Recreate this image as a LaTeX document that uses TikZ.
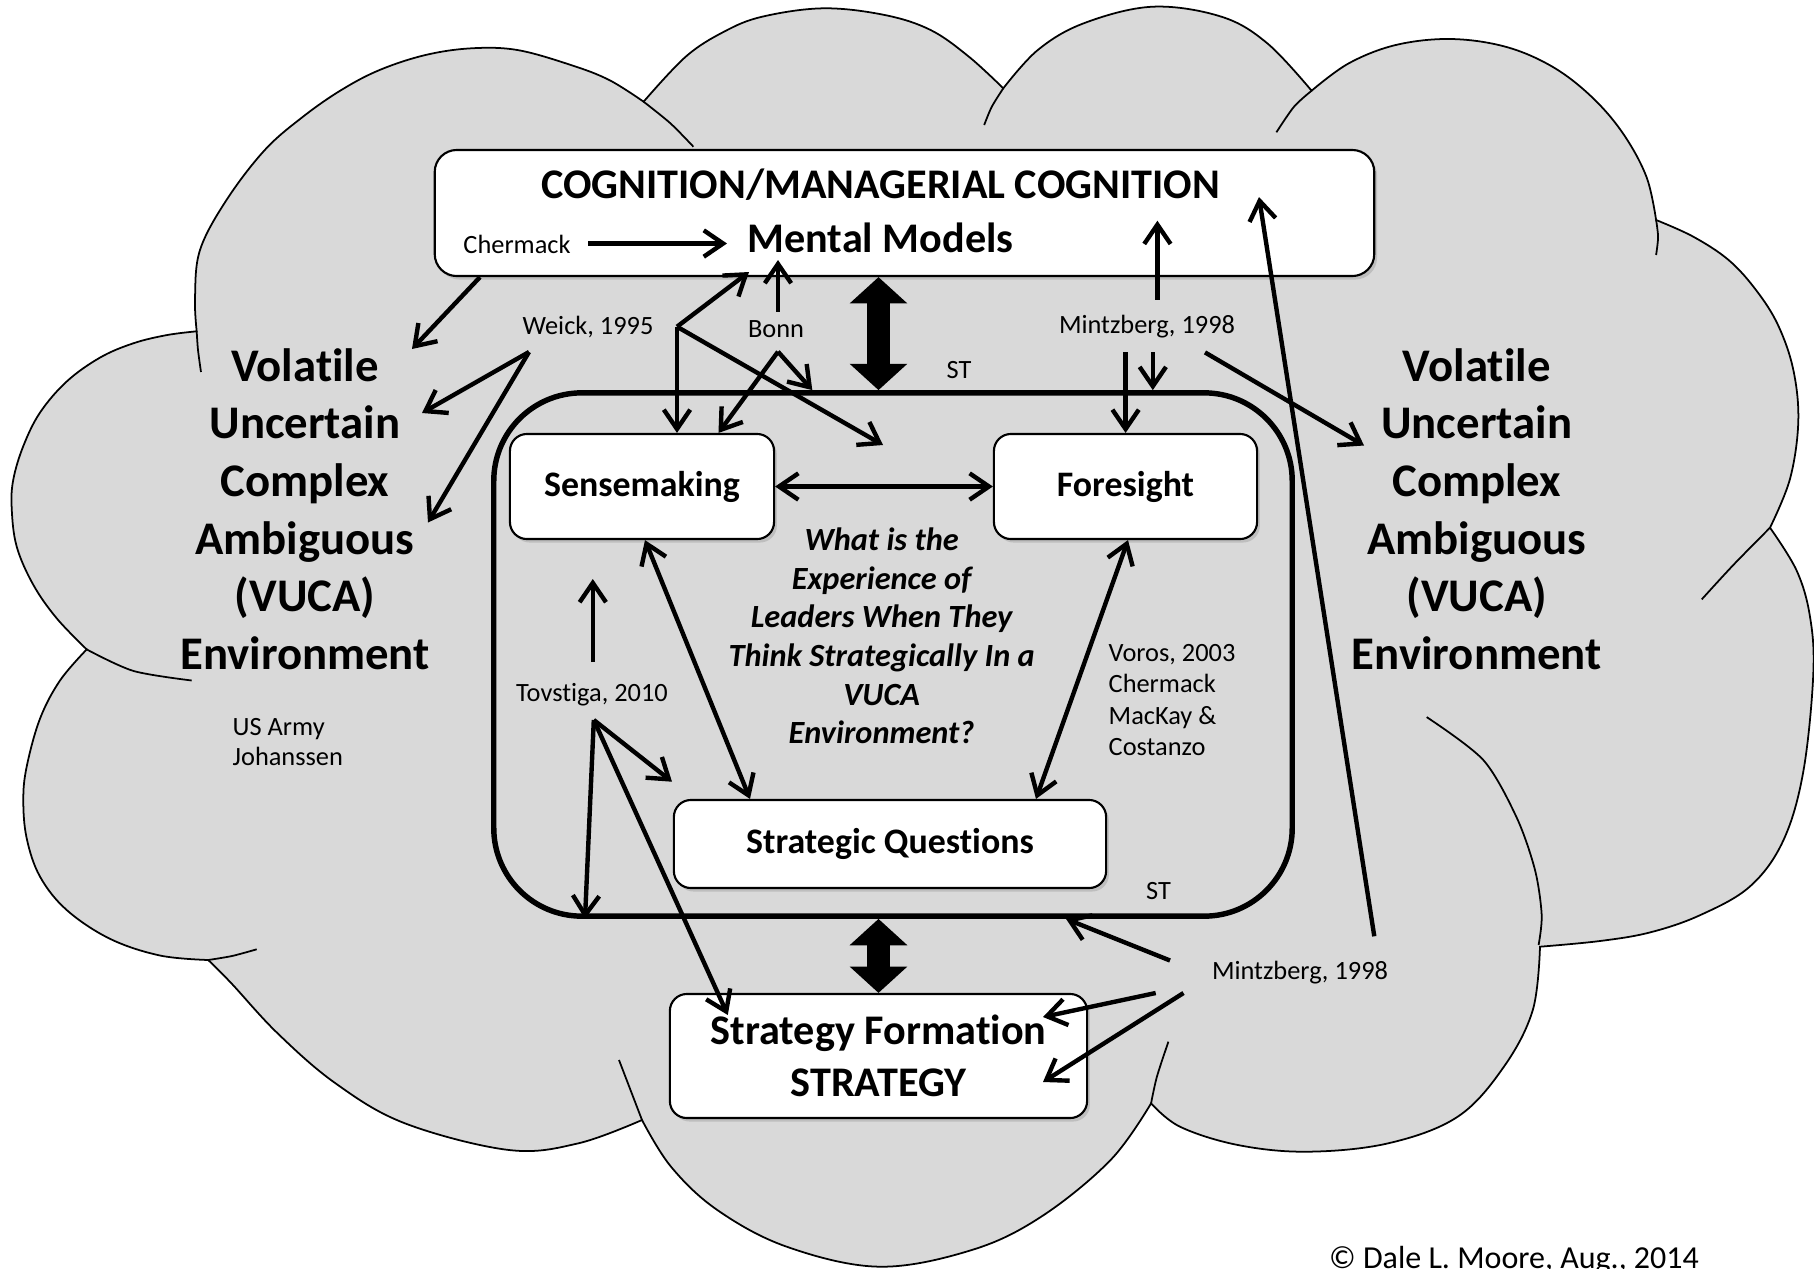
\documentclass[tikz,border=0pt]{standalone}
\usepackage{fontspec}
\setmainfont{Carlito}[Ligatures={NoCommon,NoContextual}]
\usetikzlibrary{arrows.meta,shadows}
\definecolor{cloudgray}{RGB}{217,217,217}
\begin{document}
\begin{tikzpicture}[x=0.01cm,y=-0.01cm,
  cloudline/.style={draw=black,line width=0.5pt},
  rbox/.style={draw=black,line width=0.6pt,fill=white,rounded corners=0.17cm,inner sep=0pt,align=center,
    drop shadow={opacity=0.3,shadow xshift=0.8pt,shadow yshift=-1pt}},
  boxlbl/.style={font=\bfseries\fontsize{10.2}{12}\selectfont},
  small/.style={font=\fontsize{7.5}{9}\selectfont,inner sep=0pt,align=left},
  vuca/.style={font=\bfseries\fontsize{13.3}{16.4}\selectfont,align=center,inner sep=0pt},
  arr/.style={line width=1.25pt,-{Straight Barb[length=5.5pt,width=7.5pt]}},
  darr/.style={line width=1.25pt,{Straight Barb[length=5.5pt,width=7.5pt]}-{Straight Barb[length=5.5pt,width=7.5pt]}},
  fatarr/.style={line width=6.3pt,{Triangle[length=7.5pt,width=16pt]}-{Triangle[length=7.5pt,width=16pt]}},
]
\clip (0,0) rectangle (1814,1269);
\fill[white] (0,0) rectangle (1814,1269);

% ---- the VUCA cloud: eleven bumps, clockwise from the left ----
\path[cloudline,fill=cloudgray]
  plot[smooth,tension=0.6] coordinates {(86.7,649.4) (56.7,618.3) (33.3,584.8) (16.7,546.6) (11.7,508.3) (13.3,479.6) (23.3,446.1) (40,412.6) (66.7,381.5) (100,357.6) (133.3,343.3) (166.7,335.1) (196.7,331.3)}
  -- plot[smooth,tension=0.6] coordinates {(196.7,331.3) (195,297.8) (200,250) (226.5,200) (264.8,150) (303,116.7) (341.3,90) (379.6,70) (425.5,55) (471.4,48.3) (517.3,50) (570.9,65) (609.2,80) (643.6,101.7)}
  -- plot[smooth,tension=0.6] coordinates {(643.6,101.7) (685.7,56.7) (724,31.7) (762.2,16.7) (823.5,8.3) (884.7,15) (930.6,30) (968.9,56.7) (1003.3,88.3)}
  -- plot[smooth,tension=0.6] coordinates {(1003.3,88.3) (1037.8,50) (1083.7,23.3) (1152.5,6.7) (1221.4,16.7) (1267.3,43.3) (1311.6,90.7)}
  -- plot[smooth,tension=0.6] coordinates {(1311.6,90.7) (1348.8,63.3) (1395.8,45) (1450.6,39) (1505.4,46.7) (1552.4,66.7) (1591.5,96.7) (1622.9,133.3) (1646.4,176.7) (1656.1,220)}
  -- plot[smooth,tension=0.6] coordinates {(1656.1,220) (1693.3,236.7) (1728.6,260) (1756,290) (1778,325) (1793.3,369.8) (1798.3,421.5) (1790,478.9) (1770,527.7)}
  -- plot[smooth,tension=0.6] coordinates {(1770,527.7) (1796.7,570.7) (1810,616.7) (1813.3,674) (1803.3,771.6) (1783.3,840.5) (1750,886.4) (1700,915.2) (1650,932.4) (1600,941) (1540,946.7)}
  -- plot[smooth,tension=0.6] coordinates {(1540,946.7) (1532.8,1010) (1503.9,1066.7) (1457.7,1116.7) (1388.2,1143.3) (1307.3,1151.7) (1237.9,1145) (1180,1126.7) (1151.1,1103.3)}
  -- plot[smooth,tension=0.6] coordinates {(1151.1,1103.3) (1110.6,1160) (1041.2,1216.7) (971.8,1250) (879.2,1266.7) (786.7,1246.7) (717.3,1210) (671,1166.7) (642,1120)}
  -- plot[smooth,tension=0.6] coordinates {(642,1120) (578.4,1143.3) (509,1150) (404.9,1123.3) (335.5,1083.3) (277.6,1033.3) (231.4,983.3) (208.2,960)}
  -- plot[smooth,tension=0.6] coordinates {(208.2,960) (160,955.5) (110,938.8) (66.7,910) (40,876.6) (26.7,838.3) (23.3,800) (26.7,766.6) (40,718.7) (60,680.5) (86.7,649.4)}
  -- cycle;

% inner arcs where the bumps overlap
\draw[cloudline] plot[smooth] coordinates {(86.7,649.4) (133.3,670.9) (191.7,680.5)};
\draw[cloudline] plot[smooth] coordinates {(196.7,331.3) (198,350) (201,372)};
\draw[cloudline] plot[smooth] coordinates {(643.6,101.7) (670.4,123.3) (693.4,146.7)};
\draw[cloudline] plot[smooth] coordinates {(1003.3,88.3) (991.8,106.7) (984.2,125)};
\draw[cloudline] plot[smooth] coordinates {(1311.6,90.7) (1294,106.7) (1276.4,132.3)};
\draw[cloudline] plot[smooth] coordinates {(1656.1,220) (1658.1,237) (1656.1,255)};
\draw[cloudline] plot[smooth] coordinates {(1770,527.7) (1733.3,565) (1701.7,599.4)};
\draw[cloudline] plot[smooth] coordinates {(1538.6,945) (1541.7,915) (1535,870) (1516.7,817.6) (1483.3,760) (1426.7,717.1)};
\draw[cloudline] plot[smooth] coordinates {(1151.1,1103.3) (1156.9,1076.7) (1168.4,1041.7)};
\draw[cloudline] plot[smooth] coordinates {(642,1120) (630.5,1090) (619,1060)};
\draw[cloudline] plot[smooth] coordinates {(208.2,960) (232,956) (256.7,949.3)};

% ---- frame and boxes ----
\node[draw=black,line width=1.55pt,rounded corners=0.88cm,minimum width=7.98cm,minimum height=5.23cm,inner sep=0pt] (stframe) at (893,654.5) {};
\node[rbox,minimum width=9.39cm,minimum height=1.26cm,rounded corners=0.22cm] (cog) at (904.5,213) {};
\node[rbox,boxlbl,minimum width=2.64cm,minimum height=1.05cm] (sense) at (642,486.5) {Sensemaking};
\node[rbox,boxlbl,minimum width=2.63cm,minimum height=1.05cm] (fore) at (1125.5,486.5) {Foresight};
\node[rbox,boxlbl,minimum width=4.32cm,minimum height=0.88cm] (sq) at (890,844) {\raisebox{-2.5pt}{Strategic Questions}};
\node[rbox,font=\bfseries\fontsize{12}{14.8}\selectfont,minimum width=4.17cm,minimum height=1.24cm] (sf) at (878.5,1056) {Strategy Formation\\STRATEGY};

% ---- texts ----
\node[font=\bfseries\fontsize{12}{14}\selectfont,inner sep=0pt] (title) at (880.5,185) {COGNITION/MANAGERIAL COGNITION};
\node[font=\bfseries\fontsize{12}{14}\selectfont,inner sep=0pt] (mm) at (880.5,238) {Mental Models};
\node[small] (chermack) at (517,244) {Chermack};
\node[small] (weick) at (588,327) {Weick, 1995};
\node[small] (bonn) at (776,329) {Bonn};
\node[small] (mintzT) at (1147,327) {Mintzberg, 1998};
\node[small] (stT) at (959,370) {ST};
\node[small] (stB) at (1158.6,891) {ST};
\node[small] (tovstiga) at (592,695) {Tovstiga, 2010};
\node[small,anchor=west] (voros) at (1108,700) {Voros, 2003\\Chermack\\MacKay \&\\Costanzo};
\node[small,anchor=west,font=\fontsize{7.5}{8.6}\selectfont] (army) at (232,742) {US Army\\Johanssen};
\node[small] (mintzB) at (1300,973) {Mintzberg, 1998};
\node[vuca] (vucaL) at (305,509) {Volatile\\Uncertain\\Complex\\Ambiguous\\(VUCA)\\Environment};
\node[vuca] (vucaR) at (1476.7,509) {Volatile\\Uncertain\\Complex\\Ambiguous\\(VUCA)\\Environment};
\node[font=\bfseries\itshape\fontsize{9.2}{11}\selectfont,align=center,inner sep=0pt] (question) at (881.6,636) {What is the\\Experience of\\Leaders When They\\Think Strategically In a\\VUCA\\Environment?};
\node[font=\fontsize{9.1}{11}\selectfont,inner sep=0pt,anchor=base] (copy) at (1514,1268) {© Dale L. Moore, Aug., 2014};

% ---- connector ends ----
\coordinate (chS) at (588,243.5);
\coordinate (chE) at (727,243.5);
\coordinate (vlA) at (412,349);
\coordinate (wkL) at (529,352);
\coordinate (vlB) at (422,413);
\coordinate (vlC) at (428,522.5);
\coordinate (wkR) at (677,326.7);
\coordinate (mmA) at (749,272);
\coordinate (wkE) at (883,445);
\coordinate (bnU) at (778,311.7);
\coordinate (mmB) at (778,260);
\coordinate (bnD) at (778,351.7);
\coordinate (mzU) at (1157.4,299.7);
\coordinate (cgA) at (1157.4,220.7);
\coordinate (mzD1) at (1125.6,352.4);
\coordinate (mzD2) at (1152.8,352.4);
\coordinate (mzR) at (1205,352.4);
\coordinate (vrA) at (1364,445.5);
\coordinate (tvU) at (592.8,662);
\coordinate (smB) at (592.8,579);
\coordinate (tvD) at (593.8,720);
\coordinate (sqA) at (672,781.7);
\coordinate (sfA) at (727.8,1015);
\coordinate (mbA) at (1170,960.5);
\coordinate (mbB) at (1155.7,993);
\coordinate (mbC) at (1183.5,993);
\coordinate (sfB) at (1043,1017);
\coordinate (sfC) at (1043,1082);
\coordinate (lgS) at (1374.3,936.3);
\coordinate (cgB) at (1259,197);

% ---- connectors ----
\draw[arr] (chS) -- (chE);
\draw[arr] (cog.south -| 480,0) -- (vlA);
\draw[arr] (wkL) -- (vlB);
\draw[arr] (wkL) -- (vlC);
\draw[arr] (wkR) -- (mmA);
\draw[arr] (wkR) -- (sense.north -| wkR);
\draw[arr] (wkR) -- (wkE);
\draw[arr] (bnU) -- (mmB);
\draw[arr] (bnD) -- (sense.north -| 718.5,0);
\draw[arr] (bnD) -- (stframe.north -| 812.3,0);
\draw[fatarr] (cog.south -| sf.north) -- (stframe.north -| sf.north);
\draw[arr] (mzU) -- (cgA);
\draw[arr] (mzD1) -- (fore.north -| mzD1);
\draw[arr] (mzD2) -- (stframe.north -| mzD2);
\draw[arr] (mzR) -- (vrA);
\draw[darr] (sense.east) -- (fore.west);
\draw[darr] (sense.south -| 645,0) -- (sq.north -| 750,0);
\draw[darr] (fore.south -| 1128,0) -- (sq.north -| 1036,0);
\draw[arr] (tvU) -- (smB);
\draw[arr] (tvD) -- (sqA);
\draw[arr] (tvD) -- (stframe.south -| 585,0);
\draw[arr] (tvD) -- (sfA);
\draw[fatarr] (stframe.south -| sf.north) -- (sf.north);
\draw[arr] (mbA) -- (stframe.south -| 1066,0);
\draw[arr] (mbB) -- (sfB);
\draw[arr] (mbC) -- (sfC);
\draw[arr] (lgS) -- (cgB);
\end{tikzpicture}
\end{document}
